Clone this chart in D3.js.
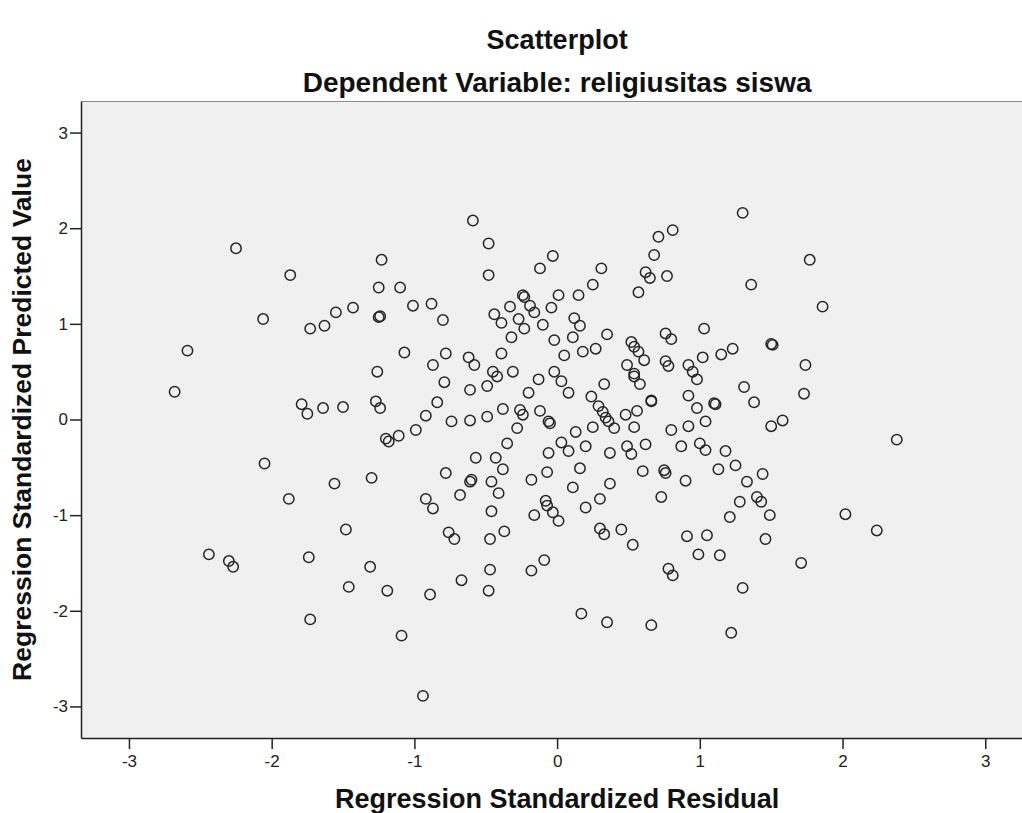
<!DOCTYPE html>
<html>
<head>
<meta charset="utf-8">
<script src="https://cdn.jsdelivr.net/npm/d3@7"></script>
<style>
  html, body { margin: 0; padding: 0; background: #ffffff; }
  svg { display: block; }
  text { font-family: "Liberation Sans", Arial, sans-serif; }
</style>
</head>
<body>
<svg id="chart" width="1022" height="813"></svg>
<script>
const chartTitle = "Scatterplot";
const chartSubtitle = "Dependent Variable: religiusitas siswa";
const xTitle = "Regression Standardized Residual";
const yTitle = "Regression Standardized Predicted Value";
const xTicks = [-3, -2, -1, 0, 1, 2, 3];
const yTicks = [-3, -2, -1, 0, 1, 2, 3];

const residual = [
  -2.25,-1.87,-1.23,-1.25,-1.10,-1.01,-2.06,-1.43,-1.55,-1.63,
  -1.73,-1.25,-1.24,-2.59,-1.07,-1.26,-0.59,-0.48,-0.48,-0.03,
  -0.12,0.31,0.71,0.68,0.62,0.65,0.77,0.57,0.25,0.15,
  0.01,-0.04,-0.24,-0.23,-0.19,-0.16,-0.33,-0.44,-0.39,-0.27,
  -0.23,-0.10,0.12,0.16,0.11,-0.02,0.35,-0.32,-0.88,-0.80,
  0.27,0.18,0.05,-0.39,-0.78,-0.62,-0.58,-0.87,-0.45,-0.31,
  -0.02,0.52,0.54,0.57,0.61,0.49,0.76,0.80,0.76,0.78,
  0.54,1.30,0.81,1.77,1.36,1.86,1.03,1.23,1.15,1.02,
  0.92,0.95,1.50,1.51,1.74,-2.68,-1.79,-1.75,-1.64,-1.50,
  -1.27,-1.24,-1.20,-1.18,-1.11,-0.99,-2.05,-1.56,-1.30,-1.88,
  -1.48,-0.79,-0.61,-0.49,-0.42,-0.13,0.03,0.08,-0.20,0.33,
  0.24,0.54,0.58,0.66,0.66,0.56,0.48,0.54,0.29,0.32,
  0.34,0.36,0.40,0.25,0.13,-0.12,-0.06,-0.05,-0.26,-0.24,
  -0.38,-0.49,-0.61,-0.74,-0.92,-0.84,-0.28,-0.35,0.03,0.08,
  -0.06,0.20,0.37,0.49,0.52,0.62,-0.57,-0.43,-0.38,-0.78,
  -0.60,-0.61,-0.46,-0.41,-0.68,-0.92,-0.87,-0.18,-0.07,0.16,
  0.11,0.37,0.60,0.75,0.76,0.73,0.30,0.20,-0.08,-0.07,
  -0.03,0.01,-0.16,-0.46,-0.76,-0.72,-0.47,-0.37,0.30,0.33,
  0.45,0.53,0.98,1.31,1.73,0.92,0.98,1.10,1.11,1.38,
  1.04,0.92,0.80,1.50,1.58,2.38,0.87,1.00,1.04,1.18,
  1.25,1.13,0.90,1.33,1.44,1.28,1.40,1.43,1.49,1.21,
  2.02,2.24,0.91,1.05,1.46,-2.44,-2.30,-2.27,-1.74,-1.31,
  -1.46,-1.19,-1.73,-1.09,-0.47,-0.67,-0.48,-0.89,-0.18,-0.09,
  0.17,0.35,0.66,-0.94,0.99,1.14,1.71,0.78,0.81,1.30,
  1.22
];

const predicted = [
  1.79,1.51,1.67,1.38,1.38,1.19,1.05,1.17,1.12,0.98,
  0.95,1.07,1.08,0.72,0.70,0.50,2.08,1.84,1.51,1.71,
  1.58,1.58,1.91,1.72,1.54,1.48,1.50,1.33,1.41,1.30,
  1.30,1.17,1.30,1.28,1.19,1.12,1.18,1.10,1.01,1.05,
  0.95,0.99,1.06,0.98,0.86,0.83,0.89,0.86,1.21,1.04,
  0.74,0.71,0.67,0.69,0.69,0.65,0.57,0.57,0.50,0.50,
  0.50,0.81,0.76,0.71,0.62,0.57,0.90,0.84,0.61,0.56,
  0.48,2.16,1.98,1.67,1.41,1.18,0.95,0.74,0.68,0.65,
  0.57,0.50,0.79,0.78,0.57,0.29,0.16,0.06,0.12,0.13,
  0.19,0.12,-0.20,-0.23,-0.17,-0.11,-0.46,-0.67,-0.61,-0.83,
  -1.15,0.39,0.31,0.35,0.45,0.42,0.40,0.28,0.28,0.37,
  0.24,0.45,0.37,0.19,0.20,0.09,0.05,-0.08,0.14,0.08,
  0.02,-0.02,-0.09,-0.08,-0.13,0.09,-0.02,-0.04,0.10,0.05,
  0.11,0.03,-0.01,-0.02,0.04,0.18,-0.09,-0.25,-0.24,-0.33,
  -0.35,-0.28,-0.35,-0.28,-0.36,-0.26,-0.40,-0.40,-0.52,-0.56,
  -0.63,-0.65,-0.65,-0.77,-0.79,-0.83,-0.93,-0.63,-0.55,-0.51,
  -0.71,-0.67,-0.54,-0.53,-0.56,-0.81,-0.83,-0.92,-0.85,-0.90,
  -0.97,-1.06,-1.00,-0.96,-1.18,-1.25,-1.25,-1.17,-1.14,-1.20,
  -1.15,-1.31,0.42,0.34,0.27,0.25,0.12,0.17,0.16,0.18,
  -0.02,-0.07,-0.11,-0.07,-0.01,-0.21,-0.28,-0.25,-0.32,-0.33,
  -0.48,-0.52,-0.64,-0.65,-0.57,-0.86,-0.81,-0.86,-1.00,-1.02,
  -0.99,-1.16,-1.22,-1.21,-1.25,-1.41,-1.48,-1.54,-1.44,-1.54,
  -1.75,-1.79,-2.09,-2.26,-1.57,-1.68,-1.79,-1.83,-1.58,-1.47,
  -2.03,-2.12,-2.15,-2.89,-1.41,-1.42,-1.50,-1.56,-1.63,-1.76,
  -2.23
];

(function () {
  const points = residual.map((r, i) => ({ x: r, y: predicted[i] }));

  const svg = d3.select("#chart");
  const plotLeft = 81, plotTop = 101, plotBottom = 738;
  const x = d3.scaleLinear().domain([-3.336, 3.336]).range([plotLeft, plotLeft + 2 * 3.336 * 142.72]);
  const y = d3.scaleLinear().domain([-3.33, 3.33]).range([plotBottom, plotTop]);
  const plotRight = x.range()[1];

  svg.append("rect")
    .attr("x", plotLeft).attr("y", plotTop)
    .attr("width", plotRight - plotLeft).attr("height", plotBottom - plotTop)
    .attr("fill", "#f0f0f0");

  svg.append("line")
    .attr("x1", plotLeft).attr("x2", plotRight).attr("y1", plotTop + 0.5).attr("y2", plotTop + 0.5)
    .attr("stroke", "#8c8c8c").attr("stroke-width", 1);

  const fmt = d => String(d);

  const gx = svg.append("g")
    .attr("transform", `translate(0,${plotBottom})`)
    .call(d3.axisBottom(x).tickValues(xTicks).tickFormat(fmt).tickSize(11).tickSizeOuter(0).tickPadding(6));
  const gy = svg.append("g")
    .attr("transform", `translate(${plotLeft},0)`)
    .call(d3.axisLeft(y).tickValues(yTicks).tickFormat(fmt).tickSize(11).tickSizeOuter(0).tickPadding(2));

  [gx, gy].forEach(g => {
    g.select(".domain").attr("stroke", "#222").attr("stroke-width", 1.5);
    g.selectAll(".tick line").attr("stroke", "#222").attr("stroke-width", 1.5);
    g.selectAll(".tick text").attr("fill", "#222").style("font-size", "17px")
      .style("font-family", "'Liberation Sans', Arial, sans-serif");
  });

  svg.append("g")
    .selectAll("circle")
    .data(points)
    .join("circle")
    .attr("cx", d => x(d.x))
    .attr("cy", d => y(d.y))
    .attr("r", 5.2)
    .attr("fill", "none")
    .attr("stroke", "#262626")
    .attr("stroke-width", 1.5);

  const addTitle = (txt, yy, size) => svg.append("text")
    .attr("x", x(0)).attr("y", yy)
    .attr("text-anchor", "middle")
    .style("font-weight", "bold").style("font-size", size + "px")
    .attr("fill", "#111")
    .text(txt);

  addTitle(chartTitle, 49, 27);
  addTitle(chartSubtitle, 92, 28);
  addTitle(xTitle, 808, 27);

  svg.append("text")
    .attr("transform", `translate(31,${y(0)}) rotate(-90)`)
    .attr("text-anchor", "middle")
    .style("font-weight", "bold").style("font-size", "26.5px")
    .attr("fill", "#111")
    .text(yTitle);
})();
</script>
</body>
</html>
